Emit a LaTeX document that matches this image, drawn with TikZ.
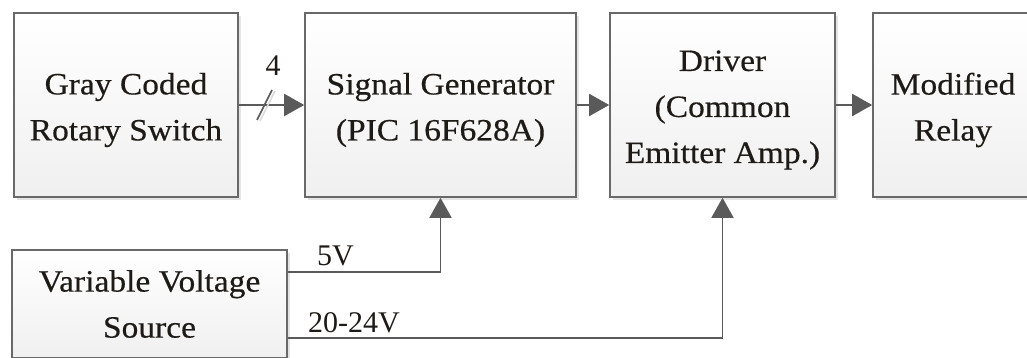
\documentclass[tikz,border=0pt]{standalone}
\usepackage{fontspec}
\setmainfont{Liberation Serif}
\newfontfamily\blockfont{Liberation Serif}[FakeStretch=1.08,FakeBold=0.4]
\usepackage{tikz}
\usetikzlibrary{arrows.meta,positioning,calc,shadows}

\definecolor{boxline}{RGB}{105,105,105}
\definecolor{wire}{RGB}{90,90,90}
\definecolor{ink}{RGB}{30,26,22}

\tikzset{
  block/.style={draw=boxline, line width=1.6pt, top color=white, bottom color=gray!12,
    drop shadow={shadow xshift=3pt, shadow yshift=-3pt, fill=gray!35, opacity=0.6}},
  blocktext/.style={text=ink, align=center, inner sep=0pt, yshift=-5pt,
    font=\blockfont\fontsize{31}{46}\selectfont},
  wirelbl/.style={text=ink, inner sep=0pt, font=\fontsize{30}{36}\selectfont},
  sig/.style={draw=wire, line width=1.8pt, -{Triangle[length=20pt,width=22pt]}}
}

\begin{document}
\begin{tikzpicture}[x=1pt, y=-1pt]
    \clip (0,0) rectangle (1027,358);

    % top row
    \node[block, minimum width=224pt, minimum height=184pt,
      label={[blocktext]center:{Gray Coded\\Rotary Switch}}] (gray) at (126,105) {};
    \node[block, minimum width=271pt, minimum height=184pt,
      label={[blocktext]center:{Signal Generator\\(PIC 16F628A)}}] (pic) at (440.5,105) {};
    \node[block, minimum width=225pt, minimum height=184pt,
      label={[blocktext]center:{Driver\\(Common\\Emitter Amp.)}}] (drv) at (722.5,105) {};
    \node[block, minimum width=160pt, minimum height=184pt,
      label={[blocktext]center:{Modified\\Relay}}] (relay) at (953,105) {};

    % supply
    \node[block, minimum width=275pt, minimum height=108pt,
      label={[blocktext, yshift=5pt]center:{Variable Voltage\\Source}}] (src) at (149.5,304) {};

    % signal path
    \draw[sig] (gray) -- (pic);
    \draw[draw=gray!30, line width=1.4pt] (260,121) -- (275,91);
    \draw[draw=wire, line width=1.6pt] (257,120) -- (272,90);
    \node[wirelbl, anchor=base] (bus) at (273,76) {4};
    \draw[sig] (pic) -- (drv);
    \draw[sig] (drv) -- (relay);

    % supply lines
    \draw[sig] ([yshift=32pt]src.east) -| (pic.south);
    \draw[sig] ([yshift=-34pt]src.east) -| (drv.south);
    \node[wirelbl, anchor=base west] (v5) at (317,265) {5V};
    \node[wirelbl, anchor=base west] (v24) at (308,332) {20-24V};
  \end{tikzpicture}
\end{document}
